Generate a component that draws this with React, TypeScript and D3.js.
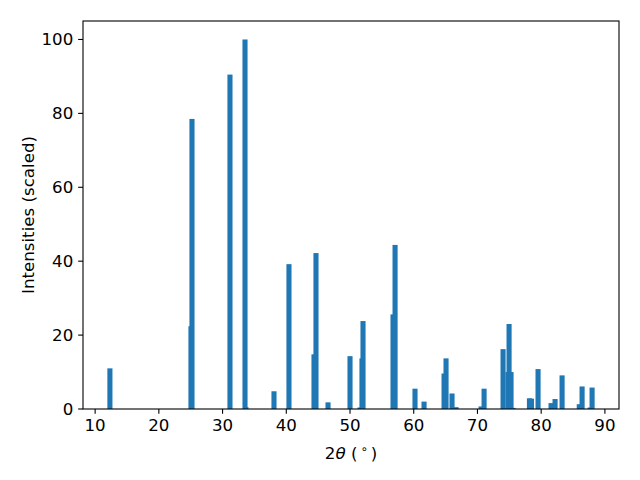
import React from "react";
import * as d3 from "d3";

// Peak positions (2θ, degrees) and scaled intensities
const positions = [
  12.32, 25.04, 25.2, 31.16, 33.52, 33.67, 38.07, 40.42, 44.35, 44.66, 46.55,
  50.0, 51.57, 51.88, 52.04, 56.75, 57.07, 60.2, 61.62, 64.76, 65.07, 66.01,
  66.64, 70.57, 71.04, 74.02, 74.8, 74.96, 75.27, 75.59, 78.16, 78.48, 79.51,
  81.55, 82.18, 83.28, 85.98, 86.42, 87.7, 87.99,
];
const intensities = [
  11.0, 22.4, 78.5, 90.5, 100.0, 0.5, 4.8, 39.2, 14.8, 42.2, 1.8,
  14.3, 0.4, 13.7, 23.8, 25.6, 44.4, 5.5, 2.0, 9.6, 13.7, 4.2,
  0.5, 0.7, 5.5, 16.2, 10.0, 23.0, 10.0, 0.3, 2.9, 2.8, 10.8,
  1.6, 2.7, 9.1, 1.3, 6.1, 0.4, 5.8,
];
const xTicks = [10, 20, 30, 40, 50, 60, 70, 80, 90];
const yTicks = [0, 20, 40, 60, 80, 100];
const barWidth = 0.8;

export default function App() {
  const W = 640;
  const H = 480;
  const left = 83;
  const right = 619;
  const top = 21;
  const bottom = 409;
  const font = "'DejaVu Sans', sans-serif";
  const fs = 16.67;
  const color = "#1f77b4";

  const xmin = d3.min(positions)! - barWidth / 2;
  const xmax = d3.max(positions)! + barWidth / 2;
  const pad = (xmax - xmin) * 0.05;
  const x = d3.scaleLinear().domain([xmin - pad, xmax + pad]).range([left, right]);
  const ymax = d3.max(intensities)! * 1.05;
  const y = d3.scaleLinear().domain([0, ymax]).range([bottom, top]);

  const bars = positions.map((p, i) => ({ p, v: intensities[i] }));
  const tickLen = 4.86;

  return (
    <svg
      width={W}
      height={H}
      style={{ position: "absolute", left: 0, top: 0, background: "#fff" }}
      fontFamily={font}
    >
      <rect x={0} y={0} width={W} height={H} fill="#fff" />
      <g>
        {bars.map((b, i) => (
          <rect
            key={i}
            x={x(b.p - barWidth / 2)}
            y={y(b.v)}
            width={x(b.p + barWidth / 2) - x(b.p - barWidth / 2)}
            height={y(0) - y(b.v)}
            fill={color}
          />
        ))}
      </g>
      <rect
        x={left}
        y={top}
        width={right - left}
        height={bottom - top}
        fill="none"
        stroke="#000"
        strokeWidth={1.1}
      />
      {xTicks.map((t) => (
        <g key={"x" + t}>
          <line x1={x(t)} x2={x(t)} y1={bottom} y2={bottom + tickLen} stroke="#000" strokeWidth={1.1} />
          <text x={x(t)} y={bottom + 22} textAnchor="middle" fontSize={fs} fill="#000">
            {t}
          </text>
        </g>
      ))}
      {yTicks.map((t) => (
        <g key={"y" + t}>
          <line x1={left - tickLen} x2={left} y1={y(t)} y2={y(t)} stroke="#000" strokeWidth={1.1} />
          <text x={left - 9.7} y={y(t)} dy="0.36em" textAnchor="end" fontSize={fs} fill="#000">
            {t}
          </text>
        </g>
      ))}
      <text x={(left + right) / 2} y={459} textAnchor="middle" fontSize={fs} fill="#000">
        <tspan>2</tspan>
        <tspan fontStyle="italic">θ</tspan>
        <tspan> (</tspan>
        <tspan fontSize={fs * 0.7} dx={3} dy={-6}>∘</tspan>
        <tspan dx={3} dy={6}>)</tspan>
      </text>
      <text
        transform={`translate(34, ${(top + bottom) / 2}) rotate(-90)`}
        textAnchor="middle"
        fontSize={fs}
        fill="#000"
      >
        Intensities (scaled)
      </text>
    </svg>
  );
}
